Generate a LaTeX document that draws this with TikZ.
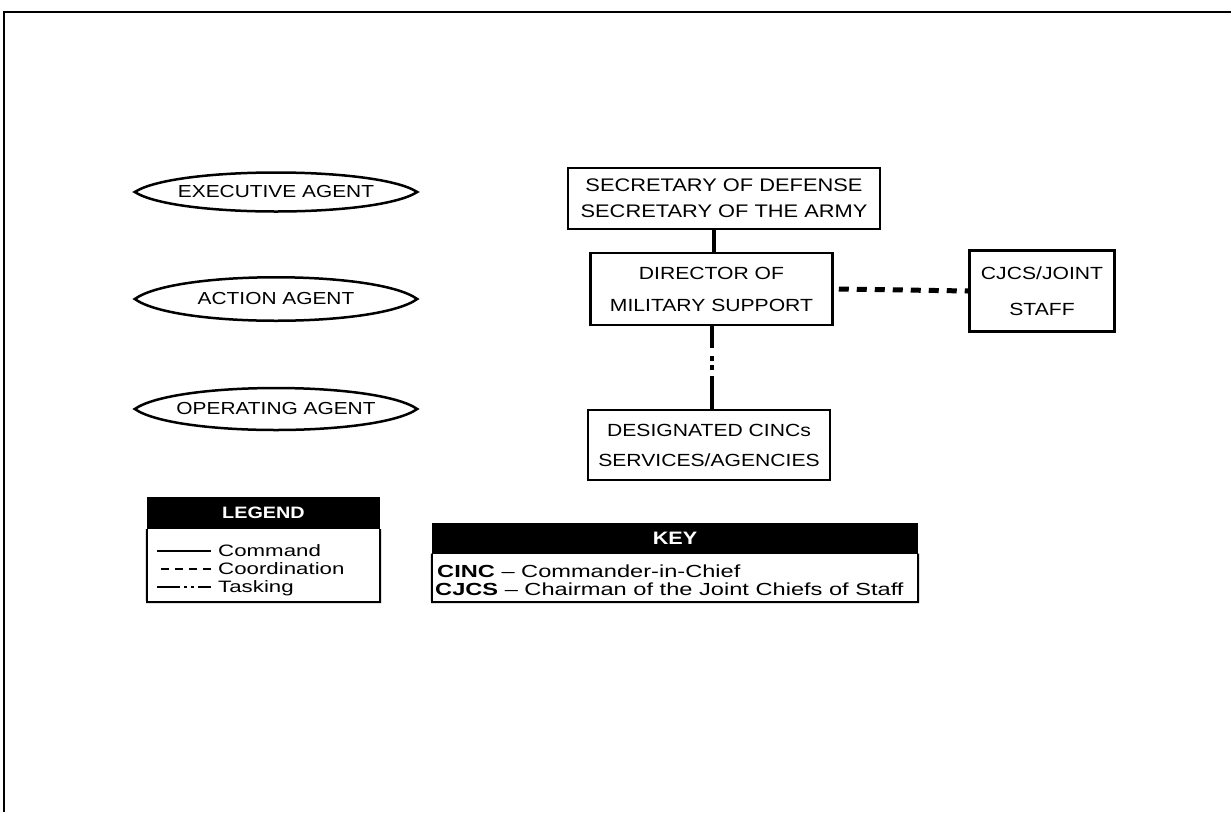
\documentclass[tikz,border=0pt]{standalone}
\usepackage{fontspec}
\setmainfont[FakeStretch=1.2]{Liberation Sans}
\newfontfamily\widefont[FakeStretch=1.35]{Liberation Sans}
\begin{document}
\begin{tikzpicture}[x=1pt,y=-1pt,
  box/.style={draw,line width=2.5pt,rectangle,align=center,inner sep=0pt},
  agent/.style={inner sep=0pt,minimum width=282pt,font=\fontsize{17.4}{20}\selectfont},
  lens/.style={line width=2.5pt},
  cmd/.style={line width=4pt},
  coord/.style={line width=5pt,dash pattern=on 10pt off 8pt},
  task/.style={line width=4pt,dash pattern=on 22pt off 8pt on 5pt off 4pt on 5pt off 6pt on 60pt},
  hdr/.style={fill=black,text=white,inner sep=0pt},
  txt/.style={font=\widefont\fontsize{16.5}{17}\selectfont,inner sep=0pt,anchor=west},
  keytxt/.style={font=\widefont\fontsize{17.5}{18}\selectfont,inner sep=0pt,anchor=west}]
\useasboundingbox (0,0) rectangle (1231,812);
\draw[line width=2pt] (4,812) -- (4,12) -- (1231,12);

% agents
\node[agent] (exec) at (276,192) {EXECUTIVE AGENT};
\node[agent] (act) at (276,299) {ACTION AGENT};
\node[agent] (oper) at (276,409) {OPERATING AGENT};
\draw[lens] (exec.west) .. controls +(40,-26) and +(-40,-26) .. (exec.east) .. controls +(-40,26) and +(40,26) .. (exec.west) -- cycle;
\draw[lens] (act.west) .. controls +(40,-29) and +(-40,-29) .. (act.east) .. controls +(-40,29) and +(40,29) .. (act.west) -- cycle;
\draw[lens] (oper.west) .. controls +(40,-28) and +(-40,-28) .. (oper.east) .. controls +(-40,28) and +(40,28) .. (oper.west) -- cycle;

% org boxes
\node[box,minimum width=312pt,minimum height=61pt,font=\fontsize{18.2}{26}\selectfont] (sd) at (724,198.5) {SECRETARY OF DEFENSE\\SECRETARY OF THE ARMY};
\node[box,minimum width=242pt,minimum height=72pt,font=\fontsize{17.6}{32}\selectfont] (dms) at (711.5,289) {DIRECTOR OF\\MILITARY SUPPORT};
\node[box,minimum width=145pt,minimum height=81pt,font=\fontsize{17.6}{36}\selectfont] (cj) at (1042,291) {CJCS/JOINT\\STAFF};
\node[box,minimum width=242pt,minimum height=70pt,font=\fontsize{17.6}{30}\selectfont] (dc) at (709,445) {DESIGNATED CINCs\\SERVICES/AGENCIES};

\draw[cmd] (dms.north) ++(2,0) coordinate (dn) -- (dn |- sd.south);
\draw[coord] ([xshift=5pt]dms.east) -- (cj.west);
\draw[task] (dms.south) -- (dms.south |- dc.north);

% legend
\node[hdr,minimum width=233pt,minimum height=32pt,font=\bfseries\fontsize{16.5}{20}\selectfont] (lh) at (263.5,513) {LEGEND};
\draw[line width=2pt] (lh.south west) -- (147,602) -- (380,602) -- (lh.south east);
\coordinate (l1a) at (157,551); \coordinate (l1b) at (211,551);
\coordinate (l2a) at (157,569); \coordinate (l2b) at (211,569);
\coordinate (l3a) at (157,587); \coordinate (l3b) at (211,587);
\draw[line width=2.5pt] (l1a) -- (l1b);
\draw[line width=2.5pt,dash pattern=on 8pt off 6pt] (l2b) -- (l2a);
\draw[line width=2.5pt,dash pattern=on 23pt off 4pt on 3pt off 4pt on 3pt off 4pt on 30pt] (l3a) -- (l3b);
\node[txt] (lc) at (218,551) {Command};
\node[txt] (lo) at (218,569) {Coordination};
\node[txt] (lt) at (218,588) {Tasking};

% key
\node[hdr,minimum width=486pt,minimum height=31pt,font=\bfseries\fontsize{18}{20}\selectfont] (kh) at (675,538) {KEY};
\draw[line width=2pt] (kh.south west) -- (432,602) -- (918,602) -- (kh.south east);
\node[keytxt] (k1) at (437,571) {\textbf{CINC} – Commander-in-Chief};
\node[keytxt] (k2) at (435,589) {\textbf{CJCS} – Chairman of the Joint Chiefs of Staff};
\end{tikzpicture}
\end{document}
